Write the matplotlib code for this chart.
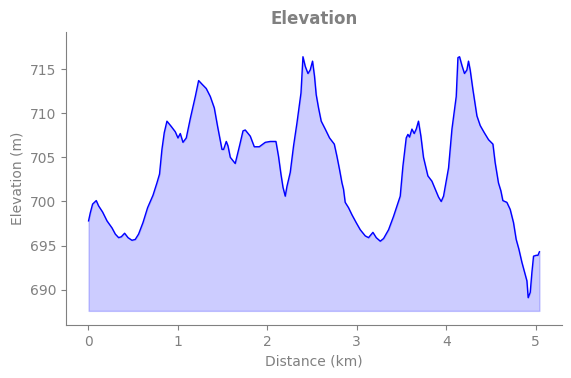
import matplotlib
matplotlib.use("Agg")
import matplotlib.pyplot as plt

# distance along the route (km) and elevation (m)
distance_km = [0.003, 0.022, 0.048, 0.089, 0.115, 0.160, 0.209, 0.265, 0.302, 0.339,
               0.369, 0.406, 0.444, 0.488, 0.525, 0.562, 0.611, 0.663, 0.723, 0.767,
               0.796, 0.823, 0.849, 0.879, 0.927, 0.972, 1.002, 1.028, 1.058, 1.095,
               1.140, 1.196, 1.233, 1.270, 1.318, 1.363, 1.408, 1.445, 1.494, 1.512,
               1.542, 1.561, 1.587, 1.642, 1.690, 1.729, 1.754, 1.810, 1.855, 1.911,
               1.978, 2.034, 2.097, 2.126, 2.153, 2.176, 2.201, 2.220, 2.257, 2.294,
               2.332, 2.377, 2.399, 2.425, 2.455, 2.480, 2.506, 2.528, 2.547, 2.573,
               2.603, 2.648, 2.696, 2.749, 2.779, 2.808, 2.835, 2.852, 2.871, 2.908,
               2.946, 2.994, 3.039, 3.095, 3.132, 3.181, 3.218, 3.263, 3.300, 3.356,
               3.411, 3.456, 3.486, 3.516, 3.553, 3.572, 3.590, 3.617, 3.642, 3.665,
               3.690, 3.717, 3.746, 3.795, 3.840, 3.877, 3.914, 3.944, 3.970, 4.000,
               4.026, 4.064, 4.112, 4.131, 4.149, 4.176, 4.204, 4.231, 4.249, 4.268,
               4.298, 4.343, 4.380, 4.425, 4.473, 4.522, 4.547, 4.584, 4.611, 4.633,
               4.678, 4.715, 4.752, 4.782, 4.812, 4.846, 4.875, 4.902, 4.916, 4.939,
               4.958, 4.976, 5.006, 5.025, 5.042]
elevation_m = [697.8, 698.7, 699.7, 700.1, 699.5, 698.8, 697.8, 697.0, 696.3, 695.9,
               696.0, 696.4, 695.9, 695.6, 695.7, 696.3, 697.6, 699.3, 700.7, 702.1,
               703.1, 705.9, 707.8, 709.1, 708.5, 707.9, 707.2, 707.7, 706.7, 707.2,
               709.4, 711.9, 713.7, 713.3, 712.8, 711.9, 710.6, 708.5, 705.9, 705.9,
               706.8, 706.3, 705.0, 704.3, 706.3, 708.0, 708.1, 707.4, 706.2, 706.2,
               706.7, 706.8, 706.8, 705.1, 703.1, 701.6, 700.6, 701.7, 703.3, 706.3,
               708.9, 712.3, 716.4, 715.3, 714.5, 714.9, 715.9, 714.2, 712.1, 710.6,
               709.1, 708.2, 707.2, 706.5, 705.1, 703.6, 702.1, 701.4, 699.9, 699.3,
               698.5, 697.6, 696.8, 696.1, 695.9, 696.5, 695.9, 695.5, 695.8, 696.8,
               698.3, 699.7, 700.6, 704.0, 707.2, 707.6, 707.3, 708.2, 707.7, 708.2,
               709.1, 707.4, 705.0, 702.9, 702.3, 701.4, 700.5, 700.0, 700.6, 702.3,
               703.8, 708.2, 711.9, 716.3, 716.4, 715.4, 714.5, 714.9, 715.9, 714.9,
               712.7, 709.7, 708.6, 707.8, 707.0, 706.5, 704.4, 702.1, 701.2, 700.1,
               699.9, 699.1, 697.6, 695.7, 694.6, 693.1, 692.0, 691.0, 689.1, 689.7,
               692.0, 693.8, 693.9, 693.9, 694.3]

base = min(elevation_m) - 1.5

fig, ax = plt.subplots(figsize=(5.71, 3.78), dpi=100)
fig.subplots_adjust(left=0.1156, right=0.9842, bottom=0.1402, top=0.9153)

ax.plot(distance_km, elevation_m, color="blue", linewidth=1)
ax.fill_between(distance_km, elevation_m, base, color="blue", alpha=0.2)

ax.set_ylim(686.0, 719.2)
ax.set_title("Elevation", color="gray", fontweight="bold", fontsize=12)
ax.set_xlabel("Distance (km)", color="gray")
ax.set_ylabel("Elevation (m)", color="gray")

for side in ["top", "right"]:
    ax.spines[side].set_visible(False)
for side in ["left", "bottom"]:
    ax.spines[side].set_color("gray")
ax.tick_params(colors="gray")

fig.savefig("out.png", dpi=100)
